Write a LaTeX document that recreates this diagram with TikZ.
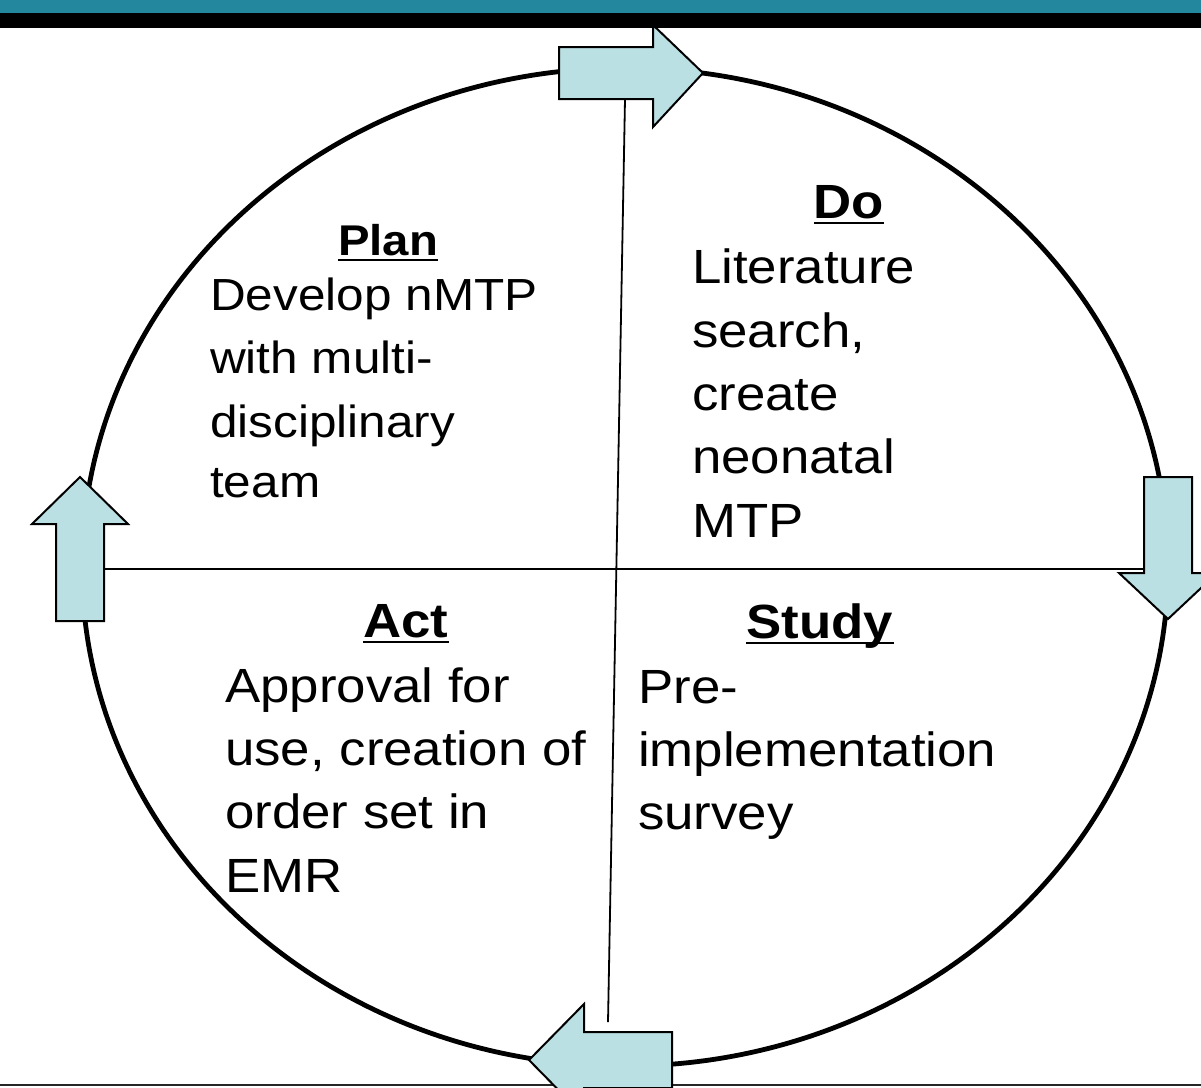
\documentclass[tikz,border=0pt]{standalone}
\usepackage{fontspec}
\setmainfont{Liberation Sans}[FakeStretch=1.1]
\definecolor{barteal}{HTML}{23889E}
\definecolor{arrowfill}{HTML}{BBE0E3}
\begin{document}
\begin{tikzpicture}[x=1pt,y=-1pt,
  body/.style={anchor=base west,inner sep=0pt,font=\fontsize{48}{58}\selectfont},
  ttl/.style={anchor=base,inner sep=0pt,font=\fontsize{48}{58}\selectfont\bfseries},
  smallbody/.style={body,font=\fontsize{45}{54}\selectfont},
  smallttl/.style={ttl,font=\fontsize{43}{52}\selectfont\bfseries},
  blockarrow/.style={fill=arrowfill,draw=black,line width=2pt,line join=miter},
  divider/.style={draw=black,line width=1.8pt}]
\useasboundingbox (0,0) rectangle (1201,1087);
\fill[white] (0,0) rectangle (1201,1087);
% cycle ellipse
\draw[line width=4.8pt] (625,567) ellipse [x radius=543, y radius=499];
% dividers
\coordinate (vtop) at (625,99);
\coordinate (vbot) at (608,1022);
\coordinate (hleft) at (104,569);
\coordinate (hright) at (1143,569);
\draw[divider] (vtop) -- (vbot);
\draw[divider] (hleft) -- (hright);
% bottom rule
\draw[line width=2pt,draw=black!85] (0,1085) -- (1201,1085);
% block arrows
\draw[blockarrow] (559,47) -- (653,47) -- (653,25) -- (703,73) -- (653,127) -- (653,99) -- (559,99) -- cycle;
\draw[blockarrow] (56,621) -- (56,524) -- (32,524) -- (80,477) -- (128,524) -- (104,524) -- (104,621) -- cycle;
\draw[blockarrow] (1144,477) -- (1192,477) -- (1192,573) -- (1217,573) -- (1168,619) -- (1119,573) -- (1144,573) -- cycle;
\draw[blockarrow] (672,1032) -- (584,1032) -- (584,1004) -- (529,1060) -- (584,1116) -- (584,1088) -- (672,1088) -- cycle;
% top bar
\fill[barteal] (0,0) rectangle (1201,13);
\fill[black] (0,13) rectangle (1201,28);
% Plan
\node[smallttl] (plan) at (388,255) {Plan};
\draw[line width=2.5pt] ([yshift=-5pt]plan.base west) -- ([yshift=-5pt]plan.base east);
\node[smallbody] (p1) at (210,310) {Develop nMTP};
\node[smallbody] (p2) at (210,373) {with multi-};
\node[smallbody] (p3) at (210,437) {disciplinary};
\node[smallbody] (p4) at (210,497) {team};
% Do
\node[ttl] (do) at (849,218) {Do};
\draw[line width=2.5pt] ([yshift=-5pt]do.base west) -- ([yshift=-5pt]do.base east);
\node[body] (d1) at (692,283) {Literature};
\node[body] (d2) at (692,347) {search,};
\node[body] (d3) at (692,410) {create};
\node[body] (d4) at (692,473) {neonatal};
\node[body] (d5) at (692,537) {MTP};
% Act
\node[ttl] (act) at (406,637) {Act};
\draw[line width=2.5pt] ([yshift=-5pt]act.base west) -- ([yshift=-5pt]act.base east);
\node[body] (a1) at (225,702) {Approval for};
\node[body] (a2) at (225,765) {use, creation of};
\node[body] (a3) at (225,828) {order set in};
\node[body] (a4) at (225,892) {EMR};
% Study
\node[ttl] (study) at (820,638) {Study};
\draw[line width=2.5pt] ([yshift=-5pt]study.base west) -- ([yshift=-5pt]study.base east);
\node[body] (s1) at (638,703) {Pre-};
\node[body] (s2) at (638,766) {implementation};
\node[body] (s3) at (638,829) {survey};
\end{tikzpicture}
\end{document}
